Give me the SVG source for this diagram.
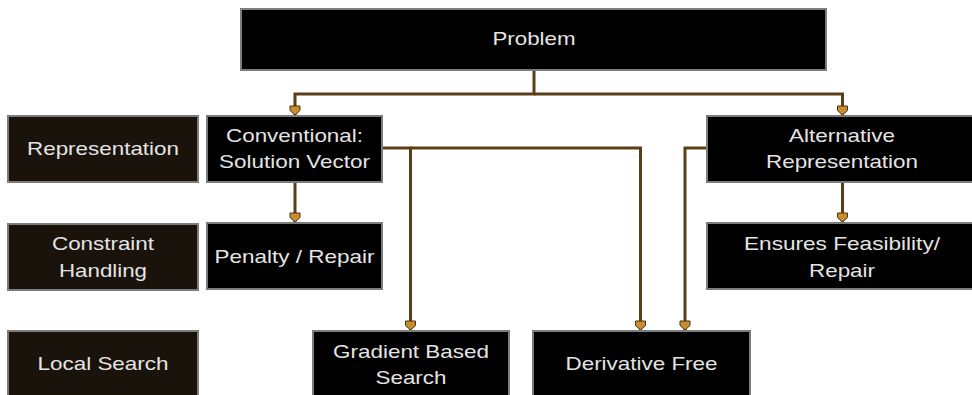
<svg xmlns="http://www.w3.org/2000/svg" width="972" height="395" viewBox="0 0 972 395">
  <defs>
    <style>
      .box { fill: #000; stroke: #7c7c7c; stroke-width: 2; }
      .label { fill: #19130b; stroke: #7c7c7c; stroke-width: 2; }
      text { font-family: "Liberation Sans", Arial, sans-serif; font-size: 18.5px; fill: #e4e4e4; text-anchor: middle; }
      .wire { fill: none; stroke: #5a3e16; stroke-width: 3; marker-end: url(#head); }
    </style>
    <marker id="head" markerUnits="userSpaceOnUse" markerWidth="14" markerHeight="14" viewBox="-10 -7 12 14" refX="0" refY="0" orient="auto">
      <path d="M-9,-5 L-4.5,-5 L0,0 L-4.5,5 L-9,5 Z" fill="#c98c2e" stroke="#4a3210" stroke-width="1"/>
    </marker>
  </defs>

  <rect width="972" height="395" fill="#fff"/>

  <!-- connectors -->
  <g id="connectors">
    <path class="wire" d="M534,71 V94 H295 V115"/>
    <path class="wire" d="M534,94 H842.5 V115"/>
    <path class="wire" d="M295,183 V222"/>
    <path class="wire" d="M383,148 H410.5 V330"/>
    <path class="wire" d="M410.5,148 H640.5 V330"/>
    <path class="wire" d="M706,148 H685 V330"/>
    <path class="wire" d="M842.5,183 V222"/>
  </g>

  <!-- row labels -->
  <g id="row-representation">
    <rect class="label" x="8" y="116" width="190" height="66"/>
    <text x="103" y="155" textLength="152" lengthAdjust="spacingAndGlyphs">Representation</text>
  </g>
  <g id="row-constraint">
    <rect class="label" x="8" y="224" width="190" height="66"/>
    <text x="103" y="250" textLength="102" lengthAdjust="spacingAndGlyphs">Constraint</text>
    <text x="103" y="276.5" textLength="88" lengthAdjust="spacingAndGlyphs">Handling</text>
  </g>
  <g id="row-local-search">
    <rect class="label" x="8" y="331" width="190" height="80"/>
    <text x="103" y="370" textLength="131" lengthAdjust="spacingAndGlyphs">Local Search</text>
  </g>

  <!-- nodes -->
  <g id="problem">
    <rect class="box" x="241" y="9" width="585" height="61"/>
    <text x="534" y="44.5" textLength="83" lengthAdjust="spacingAndGlyphs">Problem</text>
  </g>
  <g id="conventional">
    <rect class="box" x="207" y="116" width="175" height="66"/>
    <text x="294.5" y="141.5" textLength="137" lengthAdjust="spacingAndGlyphs">Conventional:</text>
    <text x="294.5" y="167.5" textLength="151" lengthAdjust="spacingAndGlyphs">Solution Vector</text>
  </g>
  <g id="alternative">
    <rect class="box" x="707" y="116" width="272" height="66"/>
    <text x="842" y="141.5" textLength="106" lengthAdjust="spacingAndGlyphs">Alternative</text>
    <text x="842" y="167.5" textLength="152" lengthAdjust="spacingAndGlyphs">Representation</text>
  </g>
  <g id="penalty-repair">
    <rect class="box" x="207" y="223" width="175" height="66"/>
    <text x="294.5" y="262.5" textLength="160" lengthAdjust="spacingAndGlyphs">Penalty / Repair</text>
  </g>
  <g id="ensures-feasibility">
    <rect class="box" x="707" y="223" width="272" height="66"/>
    <text x="842" y="249.5" textLength="196" lengthAdjust="spacingAndGlyphs">Ensures Feasibility/</text>
    <text x="842" y="276.5" textLength="66" lengthAdjust="spacingAndGlyphs">Repair</text>
  </g>
  <g id="gradient-based">
    <rect class="box" x="313" y="331" width="196" height="80"/>
    <text x="411" y="357.5" textLength="156" lengthAdjust="spacingAndGlyphs">Gradient Based</text>
    <text x="411" y="383.5" textLength="71" lengthAdjust="spacingAndGlyphs">Search</text>
  </g>
  <g id="derivative-free">
    <rect class="box" x="533" y="331" width="217" height="80"/>
    <text x="641.5" y="370" textLength="152" lengthAdjust="spacingAndGlyphs">Derivative Free</text>
  </g>
</svg>
